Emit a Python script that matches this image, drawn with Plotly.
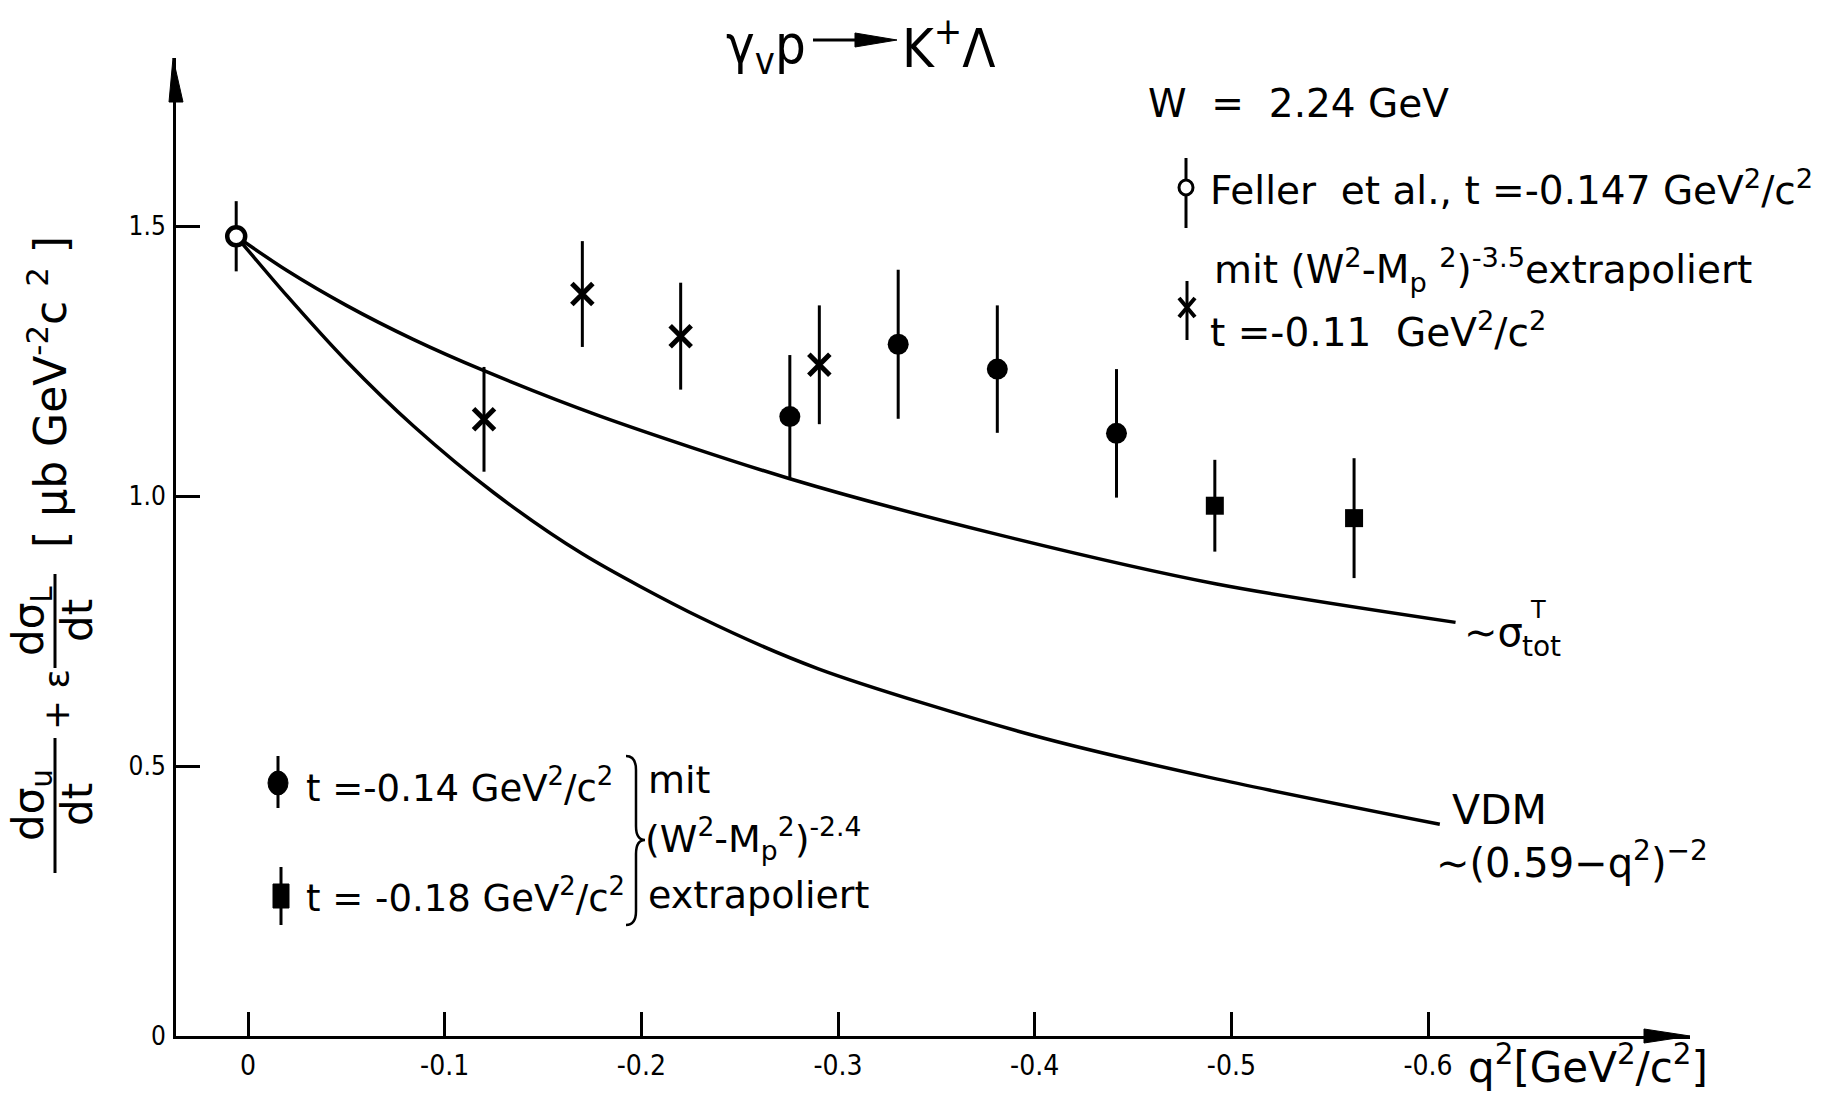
import plotly.graph_objects as go

# ---- measured data -------------------------------------------------------
# Feller et al. (open circle)
q2_feller = [0.006]
sig_feller = [1.481]
err_feller = [0.065]

# t = -0.11 GeV^2/c^2, extrapolated with (W^2-Mp^2)^-3.5 (crosses)
q2_cross = [-0.120, -0.170, -0.220, -0.2905]
sig_cross = [1.142, 1.374, 1.296, 1.243]
err_cross = [0.097, 0.098, 0.099, 0.110]

# t = -0.14 GeV^2/c^2, extrapolated with (W^2-Mp^2)^-2.4 (filled circles)
q2_circ = [-0.2755, -0.3306, -0.381, -0.4416]
sig_circ = [1.147, 1.281, 1.235, 1.116]
err_circ = [0.114, 0.138, 0.118, 0.119]

# t = -0.18 GeV^2/c^2 (filled squares)
q2_sq = [-0.4916, -0.5624]
sig_sq = [0.982, 0.959]
err_sq = [0.085, 0.111]

# model curves
q2_tot = [0.006, -0.02, -0.05, -0.084, -0.120, -0.179, -0.2755, -0.382, -0.4925, -0.614]
sig_tot = [1.481, 1.417, 1.353, 1.290, 1.232, 1.148, 1.032, 0.928, 0.837, 0.766]

q2_vdm = [0.006, -0.02, -0.05, -0.084, -0.125, -0.17, -0.23, -0.29, -0.40, -0.49, -0.606]
sig_vdm = [1.481, 1.370, 1.250, 1.130, 1.006, 0.893, 0.775, 0.680, 0.556, 0.478, 0.392]

x_ticks = [0, -0.1, -0.2, -0.3, -0.4, -0.5, -0.6]
x_tick_text = ["0", "-0.1", "-0.2", "-0.3", "-0.4", "-0.5", "-0.6"]
y_ticks = [0, 0.5, 1.0, 1.5]
y_tick_text = ["0", "0.5", "1.0", "1.5"]

# ---- layout geometry (pixels) -------------------------------------------
W, H = 1837, 1094
L, R, T, B = 176, 1690, 58, 1036
FONT = "DejaVu Sans, sans-serif"
TICKFONT = "DejaVu Sans Condensed, DejaVu Sans, sans-serif"
INK = "black"


def px(x):
    return (x - L) / (R - L)


def py(y):
    return (B - y) / (B - T)


def pt(x, y):
    return f"{px(x):.5f},{py(y):.5f}"


fig = go.Figure()

for xs, ys in ((q2_tot, sig_tot), (q2_vdm, sig_vdm)):
    fig.add_trace(go.Scatter(x=xs, y=ys, mode="lines",
                             line=dict(color=INK, width=3.5, shape="spline", smoothing=0.8),
                             hoverinfo="skip"))


def err_trace(xs, ys, es, symbol, size, fill, lw):
    return go.Scatter(
        x=xs, y=ys, mode="markers",
        marker=dict(symbol=symbol, size=size, color=fill,
                    line=dict(color=INK, width=lw)),
        error_y=dict(type="data", array=es, visible=True,
                     color=INK, thickness=3, width=0),
    )


fig.add_trace(err_trace(q2_feller, sig_feller, err_feller, "circle", 18, "white", 4.5))
fig.add_trace(err_trace(q2_cross, sig_cross, err_cross, "x-thin", 21, INK, 5))
fig.add_trace(err_trace(q2_circ, sig_circ, err_circ, "circle", 21, INK, 0))
fig.add_trace(err_trace(q2_sq, sig_sq, err_sq, "square", 18, INK, 0))

shapes = []


def line(x0, y0, x1, y1, w=3):
    shapes.append(dict(type="line", xref="paper", yref="paper",
                       x0=px(x0), y0=py(y0), x1=px(x1), y1=py(y1),
                       line=dict(color=INK, width=w)))


def path(d, fill=None, w=3):
    shapes.append(dict(type="path", xref="paper", yref="paper", path=d,
                       fillcolor=fill if fill else "rgba(0,0,0,0)",
                       line=dict(color=INK, width=w)))


# axis arrow heads
path(f"M {pt(L - 3, T)} L {pt(L + 7, T + 44)} L {pt(L - 7, T + 44)} Z", fill=INK, w=1)
path(f"M {pt(R, B)} L {pt(R - 46, B - 7)} L {pt(R - 46, B + 7)} Z", fill=INK, w=1)

# reaction arrow in the heading
line(813, 40, 862, 40, 3)
path(f"M {pt(897, 40)} L {pt(855, 33)} L {pt(855, 47)} Z", fill=INK, w=1)

# legend glyphs, upper right
line(1186, 158, 1186, 228, 3)
shapes.append(dict(type="circle", xref="paper", yref="paper",
                   x0=px(1179), x1=px(1193), y0=py(180), y1=py(195),
                   fillcolor="white", line=dict(color=INK, width=3)))
line(1187, 281, 1187, 340, 3)
path(f"M {pt(1179, 298)} L {pt(1195, 317)} M {pt(1179, 317)} L {pt(1195, 298)}", w=4)

# legend glyphs, lower left
line(278, 756, 278, 808, 3)
shapes.append(dict(type="circle", xref="paper", yref="paper",
                   x0=px(268), x1=px(288), y0=py(771), y1=py(795),
                   fillcolor=INK, line=dict(color=INK, width=1)))
line(281, 867, 281, 925, 3)
shapes.append(dict(type="rect", xref="paper", yref="paper",
                   x0=px(273), x1=px(289), y0=py(884), y1=py(908),
                   fillcolor=INK, line=dict(color=INK, width=1)))

# curly brace grouping the two lower-left entries
BX = 636
path(f"M {pt(BX - 10, 756)} Q {pt(BX, 756)} {pt(BX, 770)} L {pt(BX, 826)} "
     f"Q {pt(BX, 840)} {pt(BX + 9, 840)} Q {pt(BX, 840)} {pt(BX, 854)} "
     f"L {pt(BX, 911)} Q {pt(BX, 925)} {pt(BX - 10, 925)}", w=2.5)

# fraction bars in the y-axis title
line(55, 738, 55, 873, 3)
line(55, 574, 55, 668, 3)

annotations = []


def text(s, x, y, size, xanchor="left", yanchor="middle", angle=0, family=FONT):
    annotations.append(dict(text=s, xref="paper", yref="paper",
                            x=px(x), y=py(y), xanchor=xanchor, yanchor=yanchor,
                            showarrow=False, textangle=angle,
                            font=dict(family=family, size=size, color=INK)))


# heading
text("γ<sub>v</sub>p", 808, 48, 54, xanchor="right", family=TICKFONT)
text("K<sup>+</sup>Λ", 900, 44, 54, family=TICKFONT)

# upper right legend
text("W  =  2.24 GeV", 1146, 104, 39)
text("Feller  et al., t =-0.147 GeV<sup>2</sup>/c<sup>2</sup>", 1208, 188, 39)
text("mit (W<sup>2</sup>-M<sub>p</sub> <sup>2</sup>)<sup>-3.5</sup>extrapoliert", 1212, 270, 39)
text("t =-0.11  GeV<sup>2</sup>/c<sup>2</sup>", 1208, 330, 39)

# lower left legend
text("t =-0.14 GeV<sup>2</sup>/c<sup>2</sup>", 304, 785, 37)
text("t = -0.18 GeV<sup>2</sup>/c<sup>2</sup>", 304, 895, 37)
text("mit", BX + 10, 780, 38)
text("(W<sup>2</sup>-M<sub>p</sub><sup>2</sup>)<sup>-2.4</sup>", BX + 7, 838, 38)
text("extrapoliert", BX + 10, 895, 38)

# curve labels
text("∼σ", 1462, 632, 40)
text("T", 1538, 610, 24, xanchor="center")
text("tot", 1541, 646, 28, xanchor="center")
text("VDM", 1450, 810, 41)
text("∼(0.59−q<sup>2</sup>)<sup>−2</sup>", 1434, 860, 40)

# x-axis title
text("q<sup>2</sup>[GeV<sup>2</sup>/c<sup>2</sup>]", 1466, 1064, 42)

# y-axis title (rotated)
text("dσ<sub>u</sub>", 31, 805, 42, xanchor="center", angle=-90)
text("dt", 77, 805, 42, xanchor="center", angle=-90)
text("+ ε", 56, 700, 36, xanchor="center", angle=-90)
text("dσ<sub>L</sub>", 31, 621, 42, xanchor="center", angle=-90)
text("dt", 77, 621, 42, xanchor="center", angle=-90)
text("[ μb GeV<sup>-2</sup>c <sup>2</sup> ]", 48, 392, 44, xanchor="center", angle=-90)

x_lo = (248 - L) / 1966.7
x_hi = -(R - 248) / 1966.7
y_hi = (B - T) / 540.0

fig.update_layout(
    width=W, height=H,
    margin=dict(l=L, r=W - R, t=T, b=H - B, pad=0),
    paper_bgcolor="white", plot_bgcolor="white",
    showlegend=False,
    shapes=shapes, annotations=annotations,
    font=dict(family=FONT, color=INK),
    xaxis=dict(range=[x_lo, x_hi], tickvals=x_ticks, ticktext=x_tick_text,
               ticks="inside", ticklen=24, tickwidth=2.5, tickcolor=INK,
               showline=True, linewidth=3, linecolor=INK,
               showgrid=False, zeroline=False, ticklabelstandoff=2,
               tickfont=dict(family=TICKFONT, size=28, color=INK)),
    yaxis=dict(range=[0, y_hi], tickvals=y_ticks, ticktext=y_tick_text,
               ticks="inside", ticklen=24, tickwidth=2.5, tickcolor=INK,
               showline=True, linewidth=3, linecolor=INK,
               showgrid=False, zeroline=False, ticklabelstandoff=2,
               tickfont=dict(family=TICKFONT, size=26, color=INK)),
)

fig.write_html("out.html")
